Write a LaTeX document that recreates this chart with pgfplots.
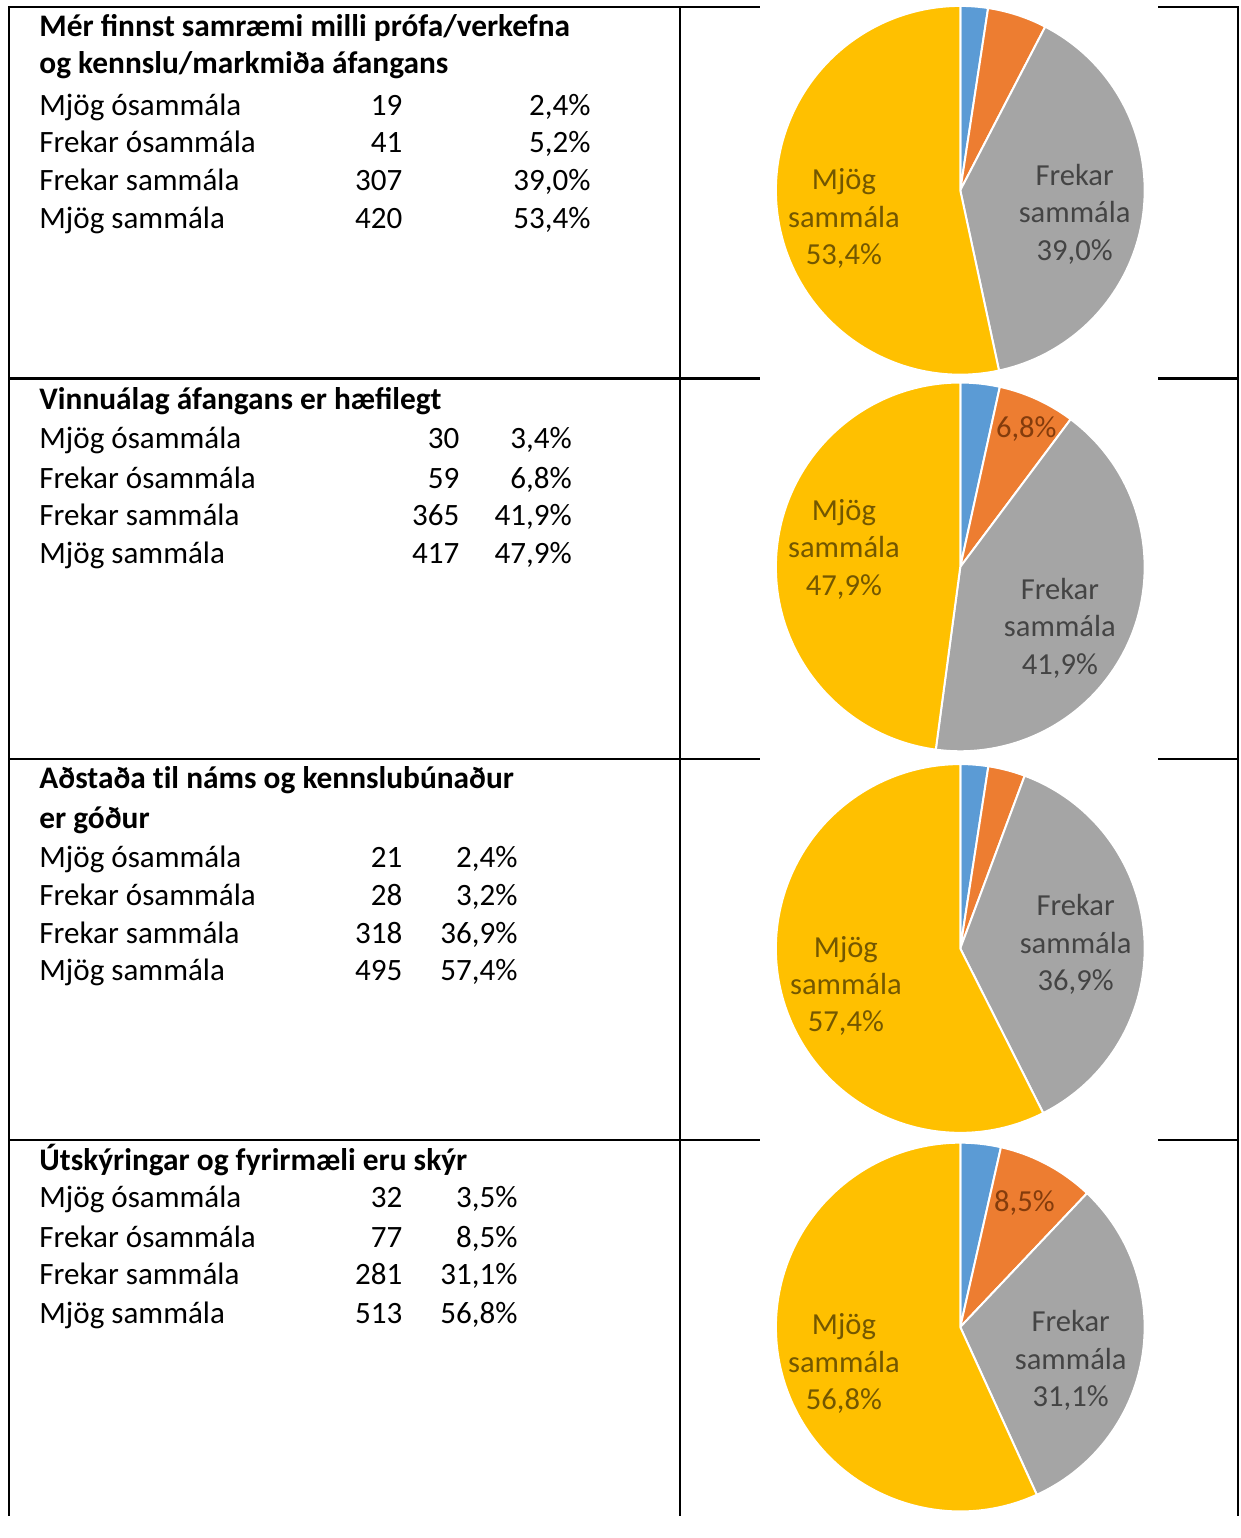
\documentclass[border=0pt]{standalone}
\usepackage{pgfplots}
\pgfplotsset{compat=1.18}
\usepackage{fontspec}
\setmainfont{Carlito}
\definecolor{pblue}{HTML}{5B9BD5}
\definecolor{porange}{HTML}{ED7D31}
\definecolor{pgray}{HTML}{A5A5A5}
\definecolor{pyellow}{HTML}{FFC000}
\definecolor{lyellow}{HTML}{735700}
\definecolor{lgray}{HTML}{444444}
\definecolor{lorange}{HTML}{843C0C}

\def\pr{93.5pt}
% one slice: cx, cy, start angle, end angle, colour
\newcommand\pieslice[5]{%
  \fill[#5, draw=white, line width=1pt] (axis cs:#1,#2) -- ++(#3:\pr)
    arc[start angle=#3, end angle=#4, radius=\pr] -- cycle;}
% whole pie from the four counts, clockwise from 12 o'clock
\newcommand\drawpie[6]{%
  \pgfplotsextra{%
    \pgfmathsetmacro\tot{#3+#4+#5+#6}%
    \pgfmathsetmacro\aA{90-360*(#3/\tot)}%
    \pgfmathsetmacro\aB{\aA-360*(#4/\tot)}%
    \pgfmathsetmacro\aC{\aB-360*(#5/\tot)}%
    \pieslice{#1}{#2}{90}{\aA}{pblue}%
    \pieslice{#1}{#2}{\aA}{\aB}{porange}%
    \pieslice{#1}{#2}{\aB}{\aC}{pgray}%
    \pieslice{#1}{#2}{\aC}{-270}{pyellow}%
  }}

\begin{document}
\begin{tikzpicture}[every node/.style={inner sep=0pt, outer sep=0pt}]
\begin{axis}[
  width=628.5pt, height=769pt, scale only axis,
  xmin=0, xmax=1257, ymin=0, ymax=1538, y dir=reverse,
  hide axis, clip=false,
]
\path (axis cs:0,0) -- (axis cs:1257,1538);

% table rules
\draw[line width=1.2pt] (axis cs:9,7) -- (axis cs:9,1538);
\draw[line width=1.2pt] (axis cs:690,7) -- (axis cs:690,1538);
\draw[line width=1.2pt] (axis cs:1256,7) -- (axis cs:1256,1538);
\pgfplotsinvokeforeach{7,384,770,1156}{
  \draw[line width=1.2pt] (axis cs:8.4,#1) -- (axis cs:771,#1);
  \draw[line width=1.2pt] (axis cs:1175,#1) -- (axis cs:1257,#1);
}

% pies
\drawpie{974}{193}{19}{41}{307}{420}
\drawpie{974}{575}{30}{59}{365}{417}
\drawpie{974}{962}{21}{28}{318}{495}
\drawpie{974}{1346}{32}{77}{281}{513}

% pie labels
\node[lyellow, align=center, font=\fontsize{15.5}{19}\selectfont] at (axis cs:856,222) {Mjög\\sammála\\53,4\%};
\node[lgray, align=center, font=\fontsize{15.5}{19}\selectfont] at (axis cs:1090,217) {Frekar\\sammála\\39,0\%};
\node[lyellow, align=center, font=\fontsize{15.5}{19}\selectfont] at (axis cs:856,557) {Mjög\\sammála\\47,9\%};
\node[lgray, align=center, font=\fontsize{15.5}{19}\selectfont] at (axis cs:1075,637) {Frekar\\sammála\\41,9\%};
\node[lorange, font=\fontsize{15.5}{19}\selectfont] at (axis cs:1041,435) {6,8\%};
\node[lyellow, align=center, font=\fontsize{15.5}{19}\selectfont] at (axis cs:858,1000) {Mjög\\sammála\\57,4\%};
\node[lgray, align=center, font=\fontsize{15.5}{19}\selectfont] at (axis cs:1091,958) {Frekar\\sammála\\36,9\%};
\node[lorange, font=\fontsize{15.5}{19}\selectfont] at (axis cs:1039,1220) {8,5\%};
\node[lyellow, align=center, font=\fontsize{15.5}{19}\selectfont] at (axis cs:856,1383) {Mjög\\sammála\\56,8\%};
\node[lgray, align=center, font=\fontsize{15.5}{19}\selectfont] at (axis cs:1086,1380) {Frekar\\sammála\\31,1\%};

% left cells
\node[anchor=base west, font=\fontsize{15.9}{19.5}\selectfont\bfseries] at (axis cs:40,37) {Mér finnst samræmi milli prófa/verkefna};
\node[anchor=base west, font=\fontsize{15.9}{19.5}\selectfont\bfseries] at (axis cs:40,75) {og kennslu/markmiða áfangans};
\node[anchor=base west, font=\fontsize{15.75}{19.5}\selectfont] at (axis cs:40,117) {Mjög ósammála};
\node[anchor=base west, font=\fontsize{15.75}{19.5}\selectfont] at (axis cs:40,155) {Frekar ósammála};
\node[anchor=base west, font=\fontsize{15.75}{19.5}\selectfont] at (axis cs:40,193) {Frekar sammála};
\node[anchor=base west, font=\fontsize{15.75}{19.5}\selectfont] at (axis cs:40,232) {Mjög sammála};
\node[anchor=base east, font=\fontsize{15.75}{19.5}\selectfont] at (axis cs:408,117) {19};
\node[anchor=base east, font=\fontsize{15.75}{19.5}\selectfont] at (axis cs:408,155) {41};
\node[anchor=base east, font=\fontsize{15.75}{19.5}\selectfont] at (axis cs:408,193) {307};
\node[anchor=base east, font=\fontsize{15.75}{19.5}\selectfont] at (axis cs:408,232) {420};
\node[anchor=base east, font=\fontsize{15.75}{19.5}\selectfont] at (axis cs:599,117) {2,4\%};
\node[anchor=base east, font=\fontsize{15.75}{19.5}\selectfont] at (axis cs:599,155) {5,2\%};
\node[anchor=base east, font=\fontsize{15.75}{19.5}\selectfont] at (axis cs:599,193) {39,0\%};
\node[anchor=base east, font=\fontsize{15.75}{19.5}\selectfont] at (axis cs:599,232) {53,4\%};

\node[anchor=base west, font=\fontsize{15.9}{19.5}\selectfont\bfseries] at (axis cs:40,415) {Vinnuálag áfangans er hæfilegt};
\node[anchor=base west, font=\fontsize{15.75}{19.5}\selectfont] at (axis cs:40,455) {Mjög ósammála};
\node[anchor=base west, font=\fontsize{15.75}{19.5}\selectfont] at (axis cs:40,495) {Frekar ósammála};
\node[anchor=base west, font=\fontsize{15.75}{19.5}\selectfont] at (axis cs:40,533) {Frekar sammála};
\node[anchor=base west, font=\fontsize{15.75}{19.5}\selectfont] at (axis cs:40,572) {Mjög sammála};
\node[anchor=base east, font=\fontsize{15.75}{19.5}\selectfont] at (axis cs:466,455) {30};
\node[anchor=base east, font=\fontsize{15.75}{19.5}\selectfont] at (axis cs:466,495) {59};
\node[anchor=base east, font=\fontsize{15.75}{19.5}\selectfont] at (axis cs:466,533) {365};
\node[anchor=base east, font=\fontsize{15.75}{19.5}\selectfont] at (axis cs:466,572) {417};
\node[anchor=base east, font=\fontsize{15.75}{19.5}\selectfont] at (axis cs:580,455) {3,4\%};
\node[anchor=base east, font=\fontsize{15.75}{19.5}\selectfont] at (axis cs:580,495) {6,8\%};
\node[anchor=base east, font=\fontsize{15.75}{19.5}\selectfont] at (axis cs:580,533) {41,9\%};
\node[anchor=base east, font=\fontsize{15.75}{19.5}\selectfont] at (axis cs:580,572) {47,9\%};

\node[anchor=base west, font=\fontsize{15.9}{19.5}\selectfont\bfseries] at (axis cs:40,800) {Aðstaða t\kern0pt il náms og kennslubúnaður};
\node[anchor=base west, font=\fontsize{15.9}{19.5}\selectfont\bfseries] at (axis cs:40,840) {er góður};
\node[anchor=base west, font=\fontsize{15.75}{19.5}\selectfont] at (axis cs:40,880) {Mjög ósammála};
\node[anchor=base west, font=\fontsize{15.75}{19.5}\selectfont] at (axis cs:40,918) {Frekar ósammála};
\node[anchor=base west, font=\fontsize{15.75}{19.5}\selectfont] at (axis cs:40,957) {Frekar sammála};
\node[anchor=base west, font=\fontsize{15.75}{19.5}\selectfont] at (axis cs:40,995) {Mjög sammála};
\node[anchor=base east, font=\fontsize{15.75}{19.5}\selectfont] at (axis cs:408,880) {21};
\node[anchor=base east, font=\fontsize{15.75}{19.5}\selectfont] at (axis cs:408,918) {28};
\node[anchor=base east, font=\fontsize{15.75}{19.5}\selectfont] at (axis cs:408,957) {318};
\node[anchor=base east, font=\fontsize{15.75}{19.5}\selectfont] at (axis cs:408,995) {495};
\node[anchor=base east, font=\fontsize{15.75}{19.5}\selectfont] at (axis cs:525,880) {2,4\%};
\node[anchor=base east, font=\fontsize{15.75}{19.5}\selectfont] at (axis cs:525,918) {3,2\%};
\node[anchor=base east, font=\fontsize{15.75}{19.5}\selectfont] at (axis cs:525,957) {36,9\%};
\node[anchor=base east, font=\fontsize{15.75}{19.5}\selectfont] at (axis cs:525,995) {57,4\%};

\node[anchor=base west, font=\fontsize{15.9}{19.5}\selectfont\bfseries] at (axis cs:40,1187) {Útskýringar og fyrirmæli eru skýr};
\node[anchor=base west, font=\fontsize{15.75}{19.5}\selectfont] at (axis cs:40,1225) {Mjög ósammála};
\node[anchor=base west, font=\fontsize{15.75}{19.5}\selectfont] at (axis cs:40,1265) {Frekar ósammála};
\node[anchor=base west, font=\fontsize{15.75}{19.5}\selectfont] at (axis cs:40,1303) {Frekar sammála};
\node[anchor=base west, font=\fontsize{15.75}{19.5}\selectfont] at (axis cs:40,1342) {Mjög sammála};
\node[anchor=base east, font=\fontsize{15.75}{19.5}\selectfont] at (axis cs:408,1225) {32};
\node[anchor=base east, font=\fontsize{15.75}{19.5}\selectfont] at (axis cs:408,1265) {77};
\node[anchor=base east, font=\fontsize{15.75}{19.5}\selectfont] at (axis cs:408,1303) {281};
\node[anchor=base east, font=\fontsize{15.75}{19.5}\selectfont] at (axis cs:408,1342) {513};
\node[anchor=base east, font=\fontsize{15.75}{19.5}\selectfont] at (axis cs:525,1225) {3,5\%};
\node[anchor=base east, font=\fontsize{15.75}{19.5}\selectfont] at (axis cs:525,1265) {8,5\%};
\node[anchor=base east, font=\fontsize{15.75}{19.5}\selectfont] at (axis cs:525,1303) {31,1\%};
\node[anchor=base east, font=\fontsize{15.75}{19.5}\selectfont] at (axis cs:525,1342) {56,8\%};
\end{axis}
\end{tikzpicture}
\end{document}
